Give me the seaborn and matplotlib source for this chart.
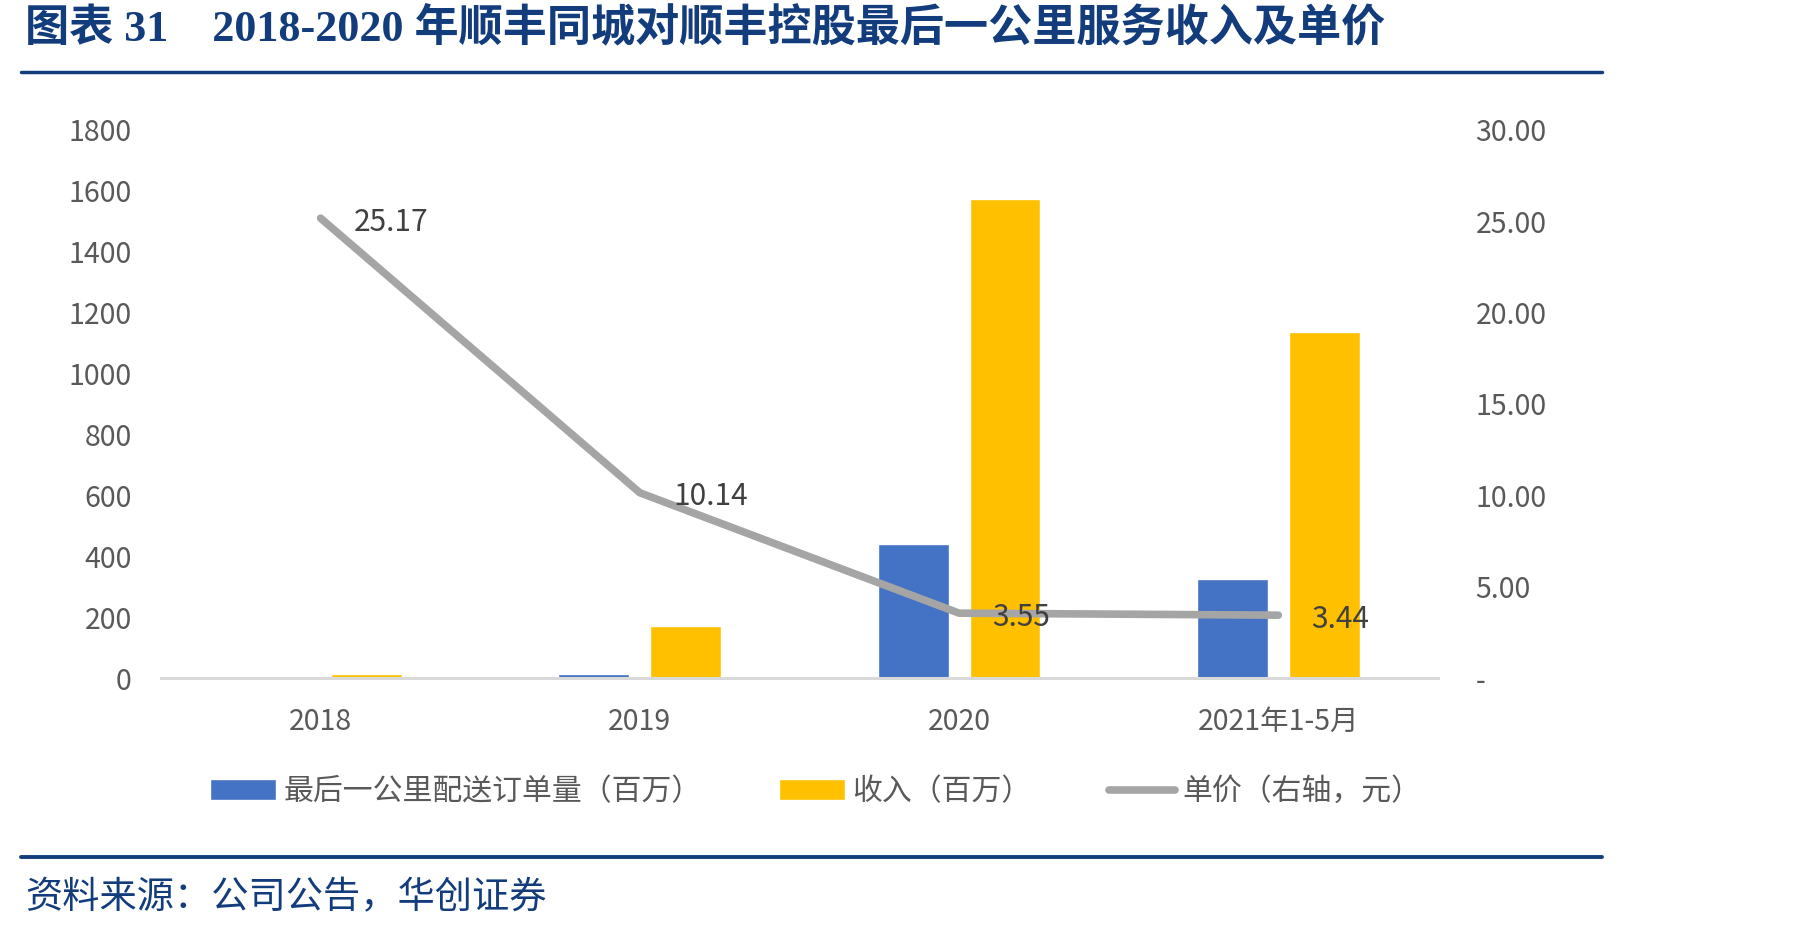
import numpy as np
import pandas as pd
import matplotlib
matplotlib.use('Agg')
import matplotlib.pyplot as plt
import seaborn as sns
from matplotlib.lines import Line2D
from matplotlib.ticker import FuncFormatter

# data
periods = ['2018', '2019', '2020', '2021年1-5月']
orders = [0, 12, 441, 325]          # 最后一公里配送订单量（百万）
revenue = [12, 172, 1573, 1136]     # 收入（百万）
unit_price = [25.17, 10.14, 3.55, 3.44]  # 单价（右轴，元）

s_orders = '最后一公里配送订单量（百万）'
s_revenue = '收入（百万）'
s_price = '单价（右轴，元）'

blue = '#4472C4'
orange = '#FFC000'
grey = '#A5A5A5'
navy = '#123C7C'
tick_col = '#595959'

sns.set_style('white')
plt.rcParams['font.family'] = ['Noto Sans CJK SC', 'DejaVu Sans']

df = pd.DataFrame({
    'period': periods * 2,
    'value': orders + revenue,
    'series': [s_orders] * 4 + [s_revenue] * 4,
})

fig = plt.figure(figsize=(18.01, 9.33), dpi=100)
ax = fig.add_axes([0.0894, 0.2733, 0.7090, 0.5874])

sns.barplot(data=df, x='period', y='value', hue='series', order=periods,
            hue_order=[s_orders, s_revenue], palette=[blue, orange],
            width=0.576, gap=0.23, ax=ax, saturation=1)
handles, labels = ax.get_legend_handles_labels()
ax.get_legend().remove()

ax2 = ax.twinx()
sns.lineplot(x=np.arange(len(periods)), y=unit_price, ax=ax2, color=grey,
             linewidth=5.5, solid_capstyle='round', solid_joinstyle='round')
for i, v in enumerate(unit_price):
    ax2.annotate(f'{v:.2f}', (i, v), xytext=(24, -3), textcoords='offset points',
                 ha='left', va='center', fontsize=21.5, color='#404040')

ax.set_xlim(-0.5, 3.5)
ax.set_ylim(0, 1800)
ax.set_yticks(range(0, 1801, 200))
ax2.set_ylim(0, 30)
ax2.set_yticks(range(0, 31, 5))
ax2.yaxis.set_major_formatter(FuncFormatter(lambda v, p: '-' if v == 0 else f'{v:.2f}'))

ax.set_xlabel('')
ax.set_ylabel('')
ax2.set_ylabel('')
for a in (ax, ax2):
    for s in a.spines.values():
        s.set_visible(False)
ax.spines['bottom'].set_visible(True)
ax.spines['bottom'].set_color('#D9D9D9')
ax.spines['bottom'].set_linewidth(2.2)

ax.tick_params(axis='y', length=0, pad=21, labelsize=20.5, labelcolor=tick_col)
ax.tick_params(axis='x', length=0, pad=21, labelsize=20.5, labelcolor=tick_col)
ax2.tick_params(axis='y', length=0, pad=27, labelsize=20.5, labelcolor=tick_col)

price_handle = Line2D([], [], color=grey, linewidth=5.5, solid_capstyle='round')
fig.legend(handles + [price_handle], labels + [s_price], loc='center',
           bbox_to_anchor=(0.453, 0.1515), ncol=3, frameon=False, fontsize=21.5,
           handlelength=2.2, handletextpad=0.25, columnspacing=2.6,
           labelcolor=tick_col)

# title, rules and source
fig.text(25 / 1801, 1 - 28 / 933, '图表 31    2018-2020 年顺丰同城对顺丰控股最后一公里服务收入及单价',
         ha='left', va='center', fontsize=31.8, fontweight='bold', color=navy,
         family=['Liberation Serif', 'Noto Sans CJK SC'])
fig.add_artist(Line2D([21 / 1801, 1602 / 1801], [1 - 72 / 933] * 2,
                      transform=fig.transFigure, color=navy, linewidth=2.5))
fig.add_artist(Line2D([21 / 1801, 1602 / 1801], [1 - 857 / 933] * 2,
                      transform=fig.transFigure, color=navy, linewidth=2.8))
fig.text(25 / 1801, 1 - 898 / 933, '资料来源：公司公告，华创证券', ha='left', va='center',
         fontsize=26.8, color=navy)

fig.savefig('out.png', dpi=100)
